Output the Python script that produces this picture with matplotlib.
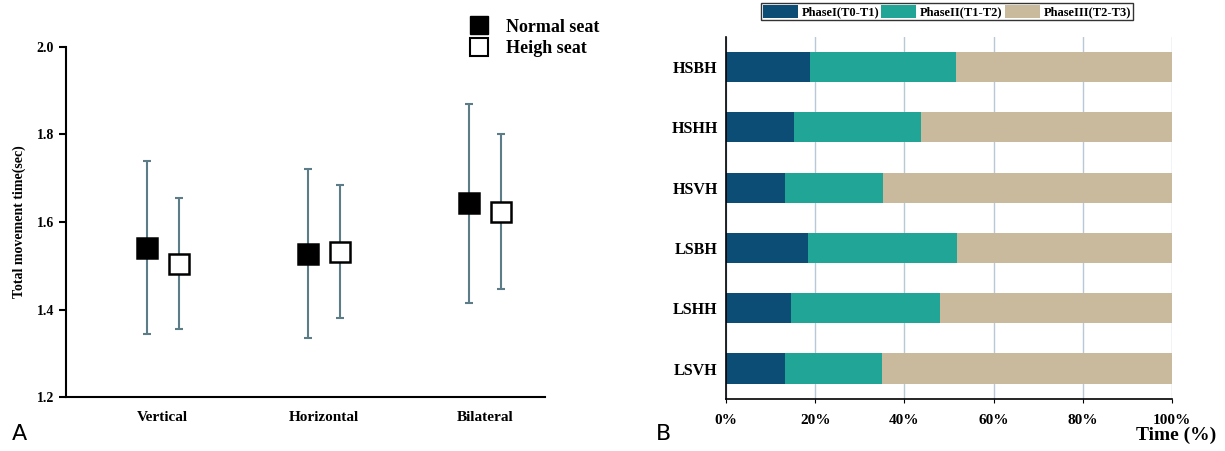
import numpy as np
import matplotlib
matplotlib.use('Agg')
import matplotlib.pyplot as plt
from matplotlib.patches import Patch

plt.rcParams['font.family'] = ['Liberation Serif', 'DejaVu Serif']
plt.rcParams['font.weight'] = 'bold'

# ── Panel A data ──
conditions = ['Vertical', 'Horizontal', 'Bilateral']
normal_mean = [1.540, 1.527, 1.643]
normal_hi = [1.740, 1.722, 1.870]
normal_lo = [1.345, 1.335, 1.415]
high_mean = [1.505, 1.532, 1.623]
high_hi = [1.655, 1.685, 1.800]
high_lo = [1.355, 1.380, 1.447]

# ── Panel B data ──
tasks = ['LSVH', 'LSHH', 'LSBH', 'HSVH', 'HSHH', 'HSBH']
phase1 = [13.2, 14.5, 18.4, 13.2, 15.3, 18.9]
phase2 = [21.7, 33.4, 33.4, 22.1, 28.4, 32.7]
phase3 = [100 - a - b for a, b in zip(phase1, phase2)]
phase_names = ['PhaseI(T0-T1)', 'PhaseII(T1-T2)', 'PhaseIII(T2-T3)']
phase_colors = ['#0b4d75', '#21a596', '#c9b99d']

fig = plt.figure(figsize=(12.25, 4.51), dpi=100)

# ── A: mean ± range ──
ax = fig.add_axes([0.0539, 0.1197, 0.391, 0.7761])
x = np.arange(len(conditions))
err_col = '#5c7c88'
for off, m, hi, lo, face in [(-0.1, normal_mean, normal_hi, normal_lo, 'black'),
                             (0.1, high_mean, high_hi, high_lo, 'white')]:
    m = np.array(m)
    yerr = [m - np.array(lo), np.array(hi) - m]
    ax.errorbar(x + off, m, yerr=yerr, fmt='none', ecolor=err_col,
                elinewidth=1.5, capsize=3, capthick=1.5, zorder=1)
    ax.plot(x + off, m, 's', ms=14, mfc=face, mec='black', mew=1.8,
            linestyle='none', zorder=2)
ax.set_xlim(-0.6, 2.37)
ax.set_ylim(1.2, 2.0)
ax.set_yticks([1.2, 1.4, 1.6, 1.8, 2.0])
ax.set_yticklabels(['1.2', '1.4', '1.6', '1.8', '2.0'], fontsize=10, fontweight='bold')
ax.set_xticks(x)
ax.set_xticklabels(conditions, fontsize=11, fontweight='bold')
ax.tick_params(axis='x', length=0, pad=10)
ax.tick_params(axis='y', length=5, width=1.5, direction='out')
ax.spines[['top', 'right']].set_visible(False)
ax.spines['left'].set_linewidth(1.5)
ax.spines['bottom'].set_linewidth(1.5)
ax.set_ylabel('Total movement time(sec)', fontsize=10, fontweight='bold', labelpad=8)

h1 = plt.Line2D([], [], marker='s', ms=13, mfc='black', mec='black', ls='none')
h2 = plt.Line2D([], [], marker='s', ms=13, mfc='white', mec='black', mew=1.5, ls='none')
fig.legend([h1, h2], ['Normal seat', 'Heigh seat'], loc='upper left',
           bbox_to_anchor=(0.363, 0.995), frameon=False,
           handletextpad=0.5, labelspacing=0.25,
           prop={'weight': 'bold', 'size': 13})

fig.text(0.010, 0.025, 'A', fontsize=16, family='DejaVu Sans', fontweight='normal')
fig.text(0.535, 0.025, 'B', fontsize=16, family='DejaVu Sans', fontweight='normal')

# ── B: stacked phase bars ──
bx = fig.add_axes([0.5927, 0.116, 0.364, 0.802])
y = np.arange(len(tasks))
left = np.zeros(len(tasks))
for vals, name, col in zip([phase1, phase2, phase3], phase_names, phase_colors):
    bx.barh(y, vals, left=left, height=0.5, color=col, label=name, zorder=2)
    left += np.array(vals)
bx.set_xlim(0, 100)
bx.set_ylim(-0.5, 5.5)
bx.set_xticks([0, 20, 40, 60, 80, 100])
bx.set_xticklabels(['0%', '20%', '40%', '60%', '80%', '100%'], fontsize=11, fontweight='bold')
bx.set_yticks(y)
bx.set_yticklabels(tasks, fontsize=11.5, fontweight='bold')
bx.grid(axis='x', color='#b8c8d4', linewidth=1.0, zorder=0)
bx.spines[['top', 'right']].set_visible(False)
bx.spines['left'].set_linewidth(1.2)
bx.spines['bottom'].set_linewidth(1.2)
bx.tick_params(axis='y', length=0, pad=6)
bx.tick_params(axis='x', length=3, pad=8)
fig.text(0.993, 0.025, 'Time (%)', fontsize=14, fontweight='bold', ha='right')

handles = [Patch(facecolor=c) for c in phase_colors]
leg = fig.legend(handles, phase_names, loc='upper center', bbox_to_anchor=(0.773, 1.0),
                 ncol=3, fancybox=False, framealpha=1, edgecolor='#333333',
                 handlelength=2.8, handleheight=1.3, handletextpad=0.3,
                 columnspacing=0.2, borderpad=0.12, borderaxespad=0.25,
                 prop={'weight': 'bold', 'size': 9})

fig.savefig('out.png', dpi=100)
